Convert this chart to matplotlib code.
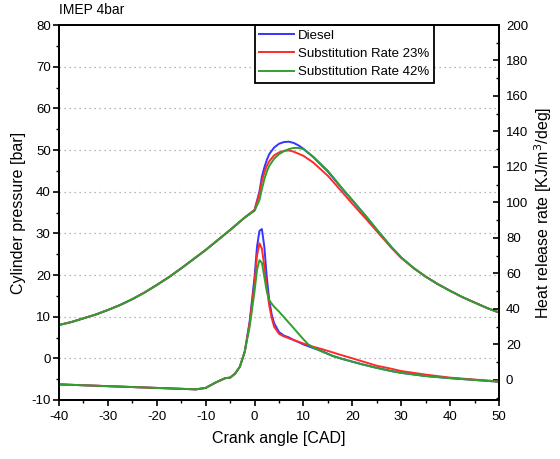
import matplotlib.pyplot as plt
from matplotlib.ticker import MultipleLocator

plt.rcParams['font.family'] = ['Liberation Sans', 'DejaVu Sans']
plt.rcParams['axes.unicode_minus'] = False

# cylinder pressure [bar]
cad_p = [-40, -37.5, -35, -32.5, -30, -27.5, -25, -22.5, -20, -17.5, -15, -12.5, -10, -7.5,
         -5, -2, 0, 1, 1.5, 2, 2.5, 3, 4, 5, 6, 7, 8, 9, 10, 12, 15, 18, 20, 23, 25, 28, 30,
         32.5, 35, 37.5, 40, 42.5, 45, 47.5, 50]
p_diesel = [8.0, 8.7, 9.6, 10.5, 11.6, 12.8, 14.2, 15.8, 17.6, 19.5, 21.6, 23.8, 26.0, 28.4,
            30.8, 33.8, 35.6, 40.0, 43.6, 45.8, 47.6, 49.0, 50.6, 51.5, 51.9, 52.0, 51.7, 51.1,
            50.3, 48.3, 44.8, 40.6, 37.9, 33.8, 30.9, 26.7, 24.2, 21.7, 19.6, 17.8, 16.2, 14.7,
            13.4, 12.1, 11.0]
p_sr23 = [8.0, 8.7, 9.6, 10.5, 11.6, 12.8, 14.2, 15.8, 17.6, 19.5, 21.6, 23.8, 26.0, 28.4,
          30.8, 33.8, 35.6, 39.6, 42.6, 44.6, 46.2, 47.3, 48.7, 49.4, 49.8, 49.9, 49.6, 49.1,
          48.6, 47.0, 43.8, 39.8, 37.1, 33.2, 30.5, 26.5, 24.1, 21.7, 19.6, 17.8, 16.2, 14.7,
          13.4, 12.1, 11.0]
p_sr42 = [8.0, 8.7, 9.6, 10.5, 11.6, 12.8, 14.2, 15.8, 17.6, 19.5, 21.6, 23.8, 26.0, 28.4,
          30.8, 33.8, 35.4, 38.0, 40.6, 43.0, 44.8, 46.2, 47.9, 49.0, 49.7, 50.2, 50.5, 50.5,
          50.2, 48.4, 45.0, 40.7, 38.0, 33.8, 30.9, 26.7, 24.2, 21.7, 19.6, 17.8, 16.2, 14.7,
          13.4, 12.1, 11.0]

# heat release rate [kJ/m3/deg]
cad_h = [-40, -35, -30, -25, -20, -15, -12, -10, -8, -6, -5, -4, -3, -2, -1, 0, 0.5, 1, 1.5,
         2, 2.5, 3, 3.5, 4, 5, 6, 7, 8, 9, 10, 11, 12, 14, 16, 18, 20, 22, 25, 28, 30, 35, 40,
         45, 50]
h_diesel = [-2.5, -3.0, -3.5, -4.0, -4.5, -5.0, -5.3, -4.5, -1.5, 1.0, 1.3, 3.5, 7.5, 16, 33,
            58, 75, 84, 85, 75, 58, 45, 37, 32, 27, 25, 24, 22.5, 21.3, 20, 19, 18, 16, 13.5,
            11.8, 10.3, 8.8, 6.8, 5.0, 4.0, 2.2, 1.0, 0.0, -1.0]
h_sr23 = [-2.5, -3.0, -3.5, -4.0, -4.5, -5.0, -5.3, -4.5, -1.5, 1.0, 1.3, 3.5, 7.5, 16, 32,
          55, 70, 77, 74, 64, 52, 42, 35, 30, 26, 24.5, 23.5, 22.5, 21.5, 20.5, 19.7, 18.7,
          17.2, 15.5, 13.8, 12.2, 10.5, 8.0, 6.3, 5.0, 3.0, 1.3, 0.2, -0.8]
h_sr42 = [-2.5, -3.0, -3.5, -4.0, -4.5, -5.0, -5.3, -4.5, -1.5, 1.0, 1.3, 3.5, 7.5, 16, 30,
          50, 62, 67.5, 66, 58, 50, 45, 43, 41.3, 38.5, 35.4, 32.3, 29.2, 26, 22.9, 20, 18.3,
          15.7, 13.5, 11.8, 10.3, 8.8, 6.8, 5.0, 4.0, 2.2, 1.0, 0.0, -1.0]

labels = ["Diesel", "Substitution Rate 23%", "Substitution Rate 42%"]
colors = ["#3535ff", "#ff2a2a", "#2fa02f"]

fig = plt.figure(figsize=(5.6, 4.59), dpi=100)
ax = fig.add_axes([59/560, 1 - 400/459, 440/560, 375/459])
ax2 = ax.twinx()

for p, c, lab in zip([p_diesel, p_sr23, p_sr42], colors, labels):
    ax.plot(cad_p, p, color=c, lw=1.4, label=lab)
for h, c in zip([h_diesel, h_sr23, h_sr42], colors):
    ax2.plot(cad_h, h, color=c, lw=1.4)

ax.set_xlim(-40, 50)
ax.set_ylim(-10, 80)
ax2.set_ylim(-11.3, 200)

for y in range(0, 80, 10):
    ax.axhline(y, color="#a0a0a0", lw=0.9, ls=(0, (1, 3)), zorder=0)

ax.xaxis.set_major_locator(MultipleLocator(10))
ax.xaxis.set_minor_locator(MultipleLocator(5))
ax.yaxis.set_major_locator(MultipleLocator(10))
ax.yaxis.set_minor_locator(MultipleLocator(5))
ax2.yaxis.set_minor_locator(MultipleLocator(10))
ax2.set_yticks(range(0, 201, 20))

ax.tick_params(which="major", direction="out", length=4, width=1.2, labelsize=9.5, pad=2)
ax.tick_params(which="minor", direction="out", length=2.5, width=1.0)
ax.tick_params(axis="x", pad=4)
ax2.tick_params(which="major", direction="in", length=4, width=1.2, labelsize=9.5, pad=5)
ax2.tick_params(which="minor", direction="in", length=2.5, width=1.0)

for a in (ax, ax2):
    for s in a.spines.values():
        s.set_linewidth(1.3)

ax.set_xlabel("Crank angle [CAD]", fontsize=11.5, labelpad=6)
ax.set_ylabel("Cylinder pressure [bar]", fontsize=11.5, labelpad=4)
ax2.set_ylabel("Heat release rate [KJ/m$^3$/deg]", fontsize=11.5, labelpad=3)
fig.text(59/560, 1 - 10/459, "IMEP 4bar", fontsize=10, va="center", ha="left")

leg = ax.legend(loc="upper left", bbox_to_anchor=(0.445, 1.0), fontsize=9.5,
                frameon=True, fancybox=False, framealpha=1, edgecolor="black",
                handlelength=2.6, handletextpad=0.3, borderpad=0.35, labelspacing=0.45,
                borderaxespad=0)
leg.get_frame().set_linewidth(1.3)

fig.savefig("out.png", dpi=100)
